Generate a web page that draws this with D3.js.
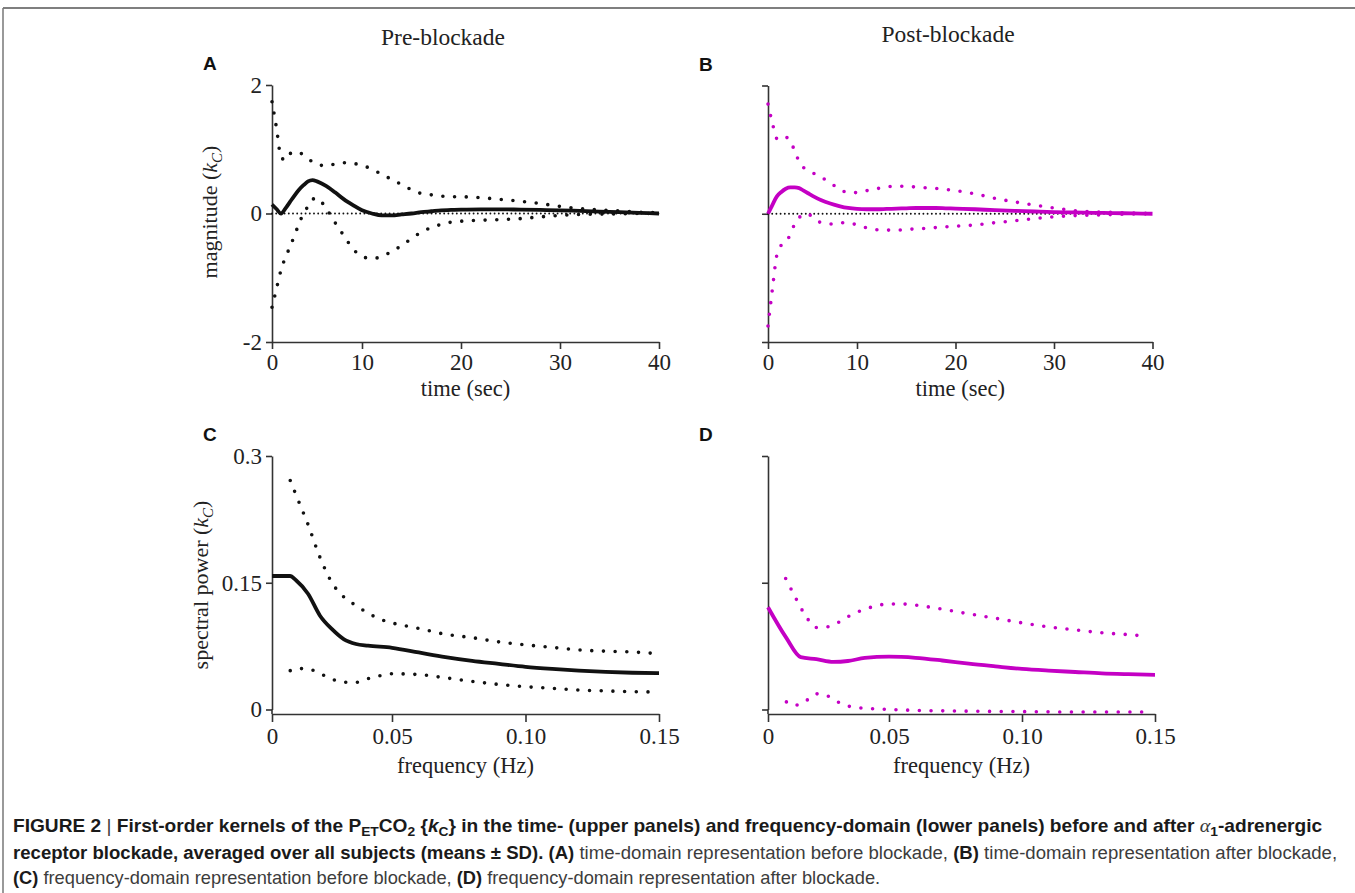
<!DOCTYPE html>
<html>
<head>
<meta charset="utf-8">
<script src="https://cdn.jsdelivr.net/npm/d3@7"></script>
<style>
  body { margin: 0; background: #fff; }
  svg { display: block; }
</style>
</head>
<body>
<script>
// time-domain kernels (sec)
var timeSec = [0, 0.5, 1, 1.5, 2, 2.5, 3, 3.5, 4, 4.5, 5, 6, 7, 8, 9, 10, 11, 12, 13, 14, 15,
  16, 17, 18, 19, 20, 22, 24, 26, 28, 30, 32, 34, 36, 38, 40];

var preMean = [0.14, 0.07, 0.0, 0.08, 0.18, 0.28, 0.37, 0.44, 0.50, 0.52, 0.50, 0.43, 0.33, 0.22, 0.13,
  0.05, 0.0, -0.03, -0.03, -0.015, 0.0, 0.02, 0.035, 0.05, 0.055, 0.06, 0.065, 0.065, 0.06, 0.055,
  0.05, 0.04, 0.03, 0.02, 0.01, 0.0];
var preUpper = [1.74, 1.33, 0.88, 0.83, 0.93, 0.96, 0.95, 0.91, 0.86, 0.80, 0.77, 0.74, 0.77, 0.79, 0.78,
  0.75, 0.69, 0.61, 0.53, 0.45, 0.37, 0.31, 0.29, 0.27, 0.26, 0.26, 0.245, 0.22, 0.19, 0.155,
  0.11, 0.075, 0.055, 0.04, 0.02, 0.015];
var preLower = [-1.46, -1.17, -0.88, -0.68, -0.52, -0.34, -0.16, 0.0, 0.11, 0.22, 0.24, 0.08, -0.14, -0.35, -0.55,
  -0.67, -0.70, -0.67, -0.59, -0.50, -0.39, -0.29, -0.22, -0.17, -0.135, -0.12, -0.105, -0.095, -0.08, -0.053,
  -0.03, -0.015, -0.01, -0.005, 0, 0];

var postMean = [0, 0.14, 0.27, 0.34, 0.39, 0.41, 0.41, 0.40, 0.36, 0.32, 0.28, 0.21, 0.16, 0.12, 0.09,
  0.075, 0.07, 0.07, 0.075, 0.08, 0.085, 0.09, 0.09, 0.09, 0.085, 0.08, 0.07, 0.055, 0.045, 0.035,
  0.025, 0.02, 0.015, 0.01, 0.005, 0];
var postUpper = [1.71, 1.41, 1.17, 1.15, 1.19, 1.15, 0.97, 0.82, 0.72, 0.68, 0.64, 0.57, 0.48, 0.39, 0.33,
  0.33, 0.36, 0.39, 0.42, 0.43, 0.43, 0.415, 0.405, 0.395, 0.38, 0.36, 0.31, 0.24, 0.185, 0.135,
  0.09, 0.05, 0.03, 0.02, 0.01, 0.005];
var postLower = [-1.75, -1.17, -0.64, -0.49, -0.45, -0.32, -0.16, -0.06, -0.01, 0.0, -0.06, -0.14, -0.16, -0.14, -0.14,
  -0.175, -0.22, -0.25, -0.255, -0.255, -0.245, -0.235, -0.228, -0.215, -0.205, -0.195, -0.175, -0.14, -0.11, -0.075,
  -0.047, -0.03, -0.02, -0.012, -0.005, 0];

// frequency-domain kernels (Hz)
var preFreq = [0, 0.0075, 0.01, 0.015, 0.02, 0.025, 0.03, 0.035, 0.04, 0.05, 0.06, 0.07, 0.08, 0.09, 0.10,
  0.11, 0.12, 0.13, 0.14, 0.15];
var preSpec = [0.158, 0.158, 0.153, 0.137, 0.111, 0.095, 0.083, 0.0775, 0.0755, 0.073, 0.0675, 0.062, 0.0575, 0.054, 0.0505,
  0.048, 0.046, 0.0445, 0.0435, 0.043];
var preBandFreq = [0.0076, 0.01, 0.015, 0.02, 0.025, 0.03, 0.035, 0.04, 0.045, 0.05, 0.06, 0.07, 0.08, 0.09, 0.10,
  0.11, 0.12, 0.13, 0.14, 0.148];
var preSpecUpper = [0.271, 0.254, 0.219, 0.180, 0.150, 0.133, 0.123, 0.114, 0.107, 0.1025, 0.096, 0.089, 0.085, 0.080, 0.0765,
  0.0735, 0.0705, 0.069, 0.068, 0.0665];
var preSpecLower = [0.046, 0.0485, 0.048, 0.0425, 0.036, 0.0322, 0.0322, 0.0366, 0.040, 0.0423, 0.0413, 0.0375, 0.0333, 0.0297, 0.027,
  0.025, 0.023, 0.022, 0.021, 0.0208];

var postFreq = [0, 0.0075, 0.0135, 0.02, 0.027, 0.033, 0.04, 0.05, 0.06, 0.07, 0.08, 0.09, 0.10, 0.11, 0.12,
  0.13, 0.14, 0.15];
var postSpec = [0.121, 0.085, 0.062, 0.0596, 0.0564, 0.0574, 0.061, 0.0625, 0.0612, 0.058, 0.0542, 0.051, 0.048, 0.046, 0.0444,
  0.0428, 0.0418, 0.041];
var postUpperFreq = [0.0073, 0.01, 0.015, 0.02, 0.025, 0.03, 0.035, 0.04, 0.045, 0.05, 0.055, 0.06, 0.07, 0.08, 0.09,
  0.10, 0.11, 0.12, 0.13, 0.14, 0.1465];
var postSpecUpper = [0.155, 0.140, 0.1135, 0.097, 0.098, 0.1045, 0.113, 0.1185, 0.123, 0.1248, 0.1248, 0.1235, 0.1187, 0.1132, 0.108,
  0.1025, 0.0978, 0.0942, 0.0908, 0.0886, 0.0868];
var postLowerFreq = [0.0076, 0.01, 0.0135, 0.017, 0.02, 0.023, 0.027, 0.031, 0.036, 0.04, 0.05, 0.06, 0.08, 0.10, 0.12, 0.145];
var postSpecLower = [0.009, 0.005, 0.006, 0.013, 0.0185, 0.018, 0.012, 0.006, 0.0025, 0.0015, 0.0, -0.001, -0.002, -0.0025, -0.003, -0.003];

// tick values and labels
var timeTicks = [0, 10, 20, 30, 40];
var timeTickLabels = ["0", "10", "20", "30", "40"];
var magTicks = [-2, 0, 2];
var magTickLabels = ["-2", "0", "2"];
var freqTicks = [0, 0.05, 0.10, 0.15];
var freqTickLabels = ["0", "0.05", "0.10", "0.15"];
var powTicks = [0, 0.15, 0.3];
var powTickLabels = ["0", "0.15", "0.3"];

var BLACK = "#111";
var MAGENTA = "#c400c4";
var serif = "'Liberation Serif', 'Times New Roman', serif";
var sans = "'Liberation Sans', Arial, sans-serif";

var svg = d3.select("body").append("svg")
  .attr("width", 1355)
  .attr("height", 893);

// figure frame (top + left)
svg.append("line").attr("x1", 3).attr("y1", 8).attr("x2", 1355).attr("y2", 8)
  .attr("stroke", "#555").attr("stroke-width", 1.5);
svg.append("line").attr("x1", 3).attr("y1", 8).attr("x2", 3).attr("y2", 893)
  .attr("stroke", "#777").attr("stroke-width", 1.5);

var panels = [
  { id: "A", x0: 272, xBreak: 362, x1: 659, xDomain: [0, 10, 40], yDomain: [-2, 2], yTop: 85, yBot: 342, axisY: 342,
    tick: 7, pad: 5, titleY: 395.5,
    xTicks: timeTicks, xLabels: timeTickLabels, yTicks: magTicks, yLabels: magTickLabels,
    xTitle: "time (sec)", color: BLACK, zeroLine: true,
    t: timeSec, mean: preMean, bandT: timeSec, up: preUpper, lo: preLower, bandTLo: timeSec },
  { id: "B", x0: 768, xBreak: 857, x1: 1152.5, xDomain: [0, 10, 40], yDomain: [-2, 2], yTop: 85.5, yBot: 342, axisY: 342,
    tick: 7, pad: 5, titleY: 395.5,
    xTicks: timeTicks, xLabels: timeTickLabels, yTicks: magTicks, yLabels: null,
    xTitle: "time (sec)", color: MAGENTA, zeroLine: true,
    t: timeSec, mean: postMean, bandT: timeSec, up: postUpper, lo: postLower, bandTLo: timeSec },
  { id: "C", x0: 272, xBreak: 392, x1: 659, xDomain: [0, 0.05, 0.15], yDomain: [0, 0.3], yTop: 456, yBot: 709.5, axisY: 714,
    tick: 8, pad: 6, titleY: 773,
    xTicks: freqTicks, xLabels: freqTickLabels, yTicks: powTicks, yLabels: powTickLabels,
    xTitle: "frequency (Hz)", color: BLACK, zeroLine: false,
    t: preFreq, mean: preSpec, bandT: preBandFreq, up: preSpecUpper, lo: preSpecLower, bandTLo: preBandFreq },
  { id: "D", x0: 768, xBreak: 889, x1: 1155, xDomain: [0, 0.05, 0.15], yDomain: [0, 0.3], yTop: 456, yBot: 709.5, axisY: 714,
    tick: 8, pad: 6, titleY: 773,
    xTicks: freqTicks, xLabels: freqTickLabels, yTicks: powTicks, yLabels: null,
    xTitle: "frequency (Hz)", color: MAGENTA, zeroLine: false,
    t: postFreq, mean: postSpec, bandT: postUpperFreq, up: postSpecUpper, lo: postSpecLower, bandTLo: postLowerFreq }
];

panels.forEach(function (p) {
  var g = svg.append("g");
  var x = d3.scaleLinear().domain(p.xDomain).range([p.x0, p.xBreak, p.x1]);
  var y = d3.scaleLinear().domain(p.yDomain).range([p.yBot, p.yTop]);

  var xAxis = d3.axisBottom(x).tickValues(p.xTicks).tickSize(p.tick).tickSizeOuter(0).tickPadding(p.pad)
    .tickFormat(function (d, i) { return p.xLabels[i]; });
  var yAxis = d3.axisLeft(y).tickValues(p.yTicks).tickSize(6).tickSizeOuter(0).tickPadding(4)
    .tickFormat(function (d, i) { return p.yLabels ? p.yLabels[i] : ""; });

  var gx = g.append("g").attr("transform", "translate(0," + p.axisY + ")").call(xAxis);
  var gy = g.append("g").attr("transform", "translate(" + p.x0 + ",0)").call(yAxis);
  if (p.axisY !== p.yBot) {
    gy.append("line").attr("x1", 0).attr("x2", 0).attr("y1", p.yBot).attr("y2", p.axisY)
      .attr("stroke", "#333").attr("stroke-width", 1.6);
  }
  [gx, gy].forEach(function (a) {
    a.select(".domain").attr("stroke", "#333").attr("stroke-width", 1.6);
    a.selectAll(".tick line").attr("stroke", "#333").attr("stroke-width", 1.6);
    a.selectAll(".tick text").attr("font-family", serif).attr("font-size", 23).attr("fill", "#222");
  });

  // axis title
  g.append("text").attr("x", (p.x0 + p.x1) / 2).attr("y", p.titleY)
    .attr("text-anchor", "middle").attr("font-family", serif).attr("font-size", 22.5).attr("fill", "#222")
    .text(p.xTitle);

  if (p.zeroLine) {
    g.append("path")
      .datum([0, 40])
      .attr("d", d3.line().x(function (d) { return x(d); }).y(function () { return y(0); }))
      .attr("fill", "none").attr("stroke", "#111").attr("stroke-width", 1.9)
      .attr("stroke-linecap", "round").attr("stroke-dasharray", "0,4.2");
  }

  var line = d3.line()
    .x(function (d) { return x(d[0]); })
    .y(function (d) { return y(d[1]); })
    .curve(d3.curveMonotoneX);

  // SD bounds as round dots spaced along the curve
  [[p.bandT, p.up], [p.bandTLo, p.lo]].forEach(function (b) {
    g.append("path")
      .datum(d3.zip(b[0], b[1]))
      .attr("d", line)
      .attr("fill", "none").attr("stroke", p.color).attr("stroke-width", 3.6)
      .attr("stroke-linecap", "round").attr("stroke-dasharray", "0,11.7");
  });

  g.append("path")
    .datum(d3.zip(p.t, p.mean))
    .attr("d", line)
    .attr("fill", "none").attr("stroke", p.color).attr("stroke-width", 3.8)
    .attr("stroke-linejoin", "round");

  // panel letter
  svg.append("text").attr("x", p.x0 - 69).attr("y", p.yTop - 15)
    .attr("font-family", sans).attr("font-weight", "bold").attr("font-size", 19).attr("fill", "#111")
    .text(p.id);
});

// column titles
svg.append("text").attr("x", 443).attr("y", 45).attr("text-anchor", "middle")
  .attr("font-family", serif).attr("font-size", 23.5).attr("fill", "#222").text("Pre-blockade");
svg.append("text").attr("x", 948).attr("y", 42).attr("text-anchor", "middle")
  .attr("font-family", serif).attr("font-size", 23.5).attr("fill", "#222").text("Post-blockade");

// y axis titles
function yTitle(cx, cy, main) {
  var t = svg.append("text")
    .attr("transform", "translate(" + cx + "," + cy + ") rotate(-90)")
    .attr("text-anchor", "middle").attr("font-family", serif).attr("font-size", 22).attr("fill", "#222");
  t.append("tspan").text(main + " (");
  t.append("tspan").attr("font-style", "italic").text("k");
  t.append("tspan").attr("font-style", "italic").attr("font-size", 15).attr("dy", 5).text("C");
  t.append("tspan").attr("dy", -5).text(")");
}
yTitle(217, 212, "magnitude");
yTitle(208, 585, "spectral power");

// caption (condensed look: larger font squeezed to each line's width)
var capBold = "#1a1a1a", capReg = "#3c3c3c";
var captionLines = [
  { y: 832, w: 1310, parts: [
    { t: "FIGURE 2 ", b: 1 }, { t: "|", b: 0 }, { t: " First-order kernels of the P", b: 1 }, { t: "ET", b: 1, sub: 1 },
    { t: "CO", b: 1 }, { t: "2", b: 1, sub: 1 }, { t: " {", b: 1 }, { t: "k", b: 1, i: 1 }, { t: "C", b: 1, sub: 1 },
    { t: "} in the time- (upper panels) and frequency-domain (lower panels) before and after ", b: 1 },
    { t: "\u03b1", b: 0, i: 1, serif: 1 }, { t: "1", b: 1, sub: 1 }, { t: "-adrenergic", b: 1 }] },
  { y: 859, w: 1325, parts: [
    { t: "receptor blockade, averaged over all subjects (means \u00b1 SD). (A)", b: 1 },
    { t: " time-domain representation before blockade, ", b: 0 }, { t: "(B)", b: 1 },
    { t: " time-domain representation after blockade,", b: 0 }] },
  { y: 884, w: 868, parts: [
    { t: "(C)", b: 1 }, { t: " frequency-domain representation before blockade, ", b: 0 }, { t: "(D)", b: 1 },
    { t: " frequency-domain representation after blockade.", b: 0 }] }
];

captionLines.forEach(function (ln) {
  var t = svg.append("text").attr("x", 0).attr("y", 0)
    .attr("font-family", sans).attr("font-size", 18);
  var shifted = false;
  ln.parts.forEach(function (pt) {
    var s = t.append("tspan").text(pt.t)
      .attr("font-weight", pt.b ? "bold" : "normal")
      .attr("fill", pt.b ? capBold : capReg);
    if (pt.i) s.attr("font-style", "italic");
    if (pt.serif) s.attr("font-family", serif).attr("font-size", 19);
    if (pt.sub && !shifted) { s.attr("dy", 4).attr("font-size", 13); shifted = true; }
    else if (pt.sub) { s.attr("font-size", 13); }
    else if (shifted) { s.attr("dy", -4); shifted = false; }
  });
  var w = t.node().getBBox().width;
  t.attr("transform", "translate(13," + ln.y + ") scale(" + (ln.w / w) + ",1)");
});
</script>
</body>
</html>
